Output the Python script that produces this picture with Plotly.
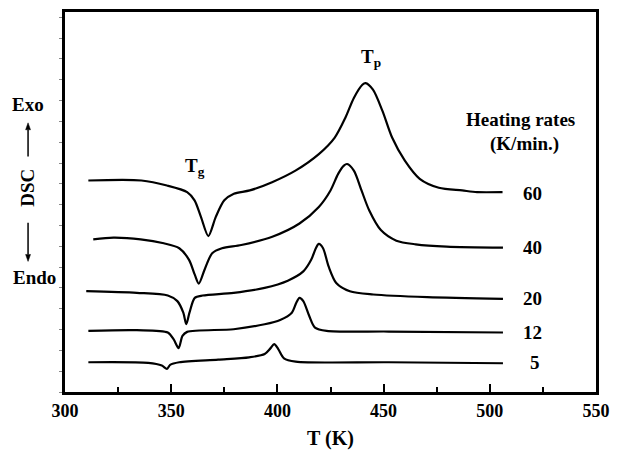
import plotly.graph_objects as go

# ---- data (T in K, DSC signal in arbitrary units) ----
T60 = [311, 336, 348, 357.5, 361, 364, 367.5, 371, 375, 379.5, 387, 397.5, 408.5, 419.5, 427, 432, 436, 440, 441.5, 445, 449.5, 454, 460, 467, 476, 487, 494, 506]
S60 = [64, 64, 62.5, 60.5, 58, 53, 47.2, 53, 58, 60, 61, 63.5, 67, 72, 77, 83, 89, 93, 93.5, 91.5, 85, 77, 70, 64.5, 61.8, 61, 60.5, 60.5]

T40 = [313.3, 322.8, 335.6, 346.5, 353.8, 358.4, 361.1, 363, 365.7, 369.3, 373.9, 383, 397.6, 410.4, 419.5, 425, 428.6, 431.3, 432.8, 436, 439.6, 443.2, 448.7, 456, 465.1, 479.7, 506.2]
S40 = [46.2, 46.7, 46.2, 45, 43.5, 40, 35.5, 32.8, 37, 42, 43.5, 44.5, 47, 51, 56, 61, 66, 68.5, 69, 67, 61, 55, 49, 45.8, 44.7, 44, 43.7]

T20 = [310, 333.8, 348.4, 352.9, 355.7, 357.1, 358.6, 361.1, 364.8, 379.4, 394, 404.9, 412.2, 415.9, 418.1, 419.5, 421.5, 424.1, 427.7, 434.1, 445.1, 470.6, 506.2]
S20 = [30.5, 30, 29.2, 27.5, 24, 20.5, 24, 28.5, 29.2, 30, 31.5, 33.7, 36.5, 40, 43.5, 44.8, 43.5, 38, 33, 30.5, 29.5, 28.7, 28.2]

T12 = [311, 333.8, 348.4, 351.1, 353.5, 355.3, 357.5, 379.4, 394, 401.3, 406.8, 408.9, 410.4, 412.2, 415, 417.7, 423.2, 452.4, 506.2]
S12 = [18.5, 18.7, 18, 16, 13.3, 17, 18.2, 19, 20.5, 21.8, 24, 27, 28.5, 27.5, 23, 19.5, 18.5, 18.3, 18]

T5 = [311, 339.2, 345.6, 348, 349.5, 353.8, 372.1, 386.7, 394, 396.7, 398.5, 400.4, 403.1, 408.6, 452.4, 506.2]
S5 = [9, 8.8, 8, 7, 8.2, 9, 9.8, 10.5, 11.5, 13.2, 14.5, 13, 10.2, 9.2, 9, 8.7]

rates = ["60", "40", "20", "12", "5"]
label_T = [520, 520, 520, 520, 521.5]
label_S = [60.2, 43.8, 28.3, 18, 9]

x_ticks = [300, 350, 400, 450, 500, 550]

W, H = 619, 456
L, R, TOP, B = 65, 15, 9, 63
FONT = "Liberation Serif"

def px_x(p):
    return (p - L) / (W - L - R)

def px_y(p):
    return 1 - (p - TOP) / (H - TOP - B)

fig = go.Figure()
for Tx, Sy in [(T60, S60), (T40, S40), (T20, S20), (T12, S12), (T5, S5)]:
    fig.add_trace(go.Scatter(x=Tx, y=Sy, mode="lines",
                             line=dict(color="black", width=2.2, shape="spline", smoothing=0.8),
                             showlegend=False, hoverinfo="skip"))

def bold(size):
    return dict(family=FONT, size=size, color="black", weight="bold")

ann = []
for r, tx, sy in zip(rates, label_T, label_S):
    ann.append(dict(x=tx, y=sy, xref="x", yref="y", text=r, showarrow=False,
                    xanchor="center", yanchor="middle", font=bold(19)))
ann.append(dict(x=514.5, y=82.5, xref="x", yref="y", text="Heating rates", showarrow=False,
                xanchor="center", yanchor="middle", font=bold(19)))
ann.append(dict(x=516.5, y=75, xref="x", yref="y", text="(K/min.)", showarrow=False,
                xanchor="center", yanchor="middle", font=bold(19)))
ann.append(dict(x=361, y=68, xref="x", yref="y", text="T<sub>g</sub>", showarrow=False,
                xanchor="center", yanchor="middle", font=bold(19)))
ann.append(dict(x=444, y=101, xref="x", yref="y", text="T<sub>p</sub>", showarrow=False,
                xanchor="center", yanchor="middle", font=bold(19)))

# y-axis side labels
ann.append(dict(x=px_x(27), y=px_y(102), xref="paper", yref="paper", text="Exo", showarrow=False,
                xanchor="center", yanchor="middle", font=bold(19)))
ann.append(dict(x=px_x(34), y=px_y(277), xref="paper", yref="paper", text="Endo", showarrow=False,
                xanchor="center", yanchor="middle", font=bold(19)))
ann.append(dict(x=px_x(27), y=px_y(187), xref="paper", yref="paper", text="DSC", showarrow=False,
                xanchor="center", yanchor="middle", textangle=-90, font=bold(19)))

# arrows (shaft + triangular head) drawn as shapes in paper coordinates
shapes = []
def arrow(xp, y_tail, y_tip, head=7, half=2.5):
    d = 1 if y_tip > y_tail else -1
    base = y_tip - d * head
    shapes.append(dict(type="line", xref="paper", yref="paper",
                       x0=px_x(xp), x1=px_x(xp), y0=px_y(y_tail), y1=px_y(base),
                       line=dict(color="black", width=1.5)))
    path = "M {:.5f},{:.5f} L {:.5f},{:.5f} L {:.5f},{:.5f} Z".format(
        px_x(xp), px_y(y_tip), px_x(xp - half), px_y(base), px_x(xp + half), px_y(base))
    shapes.append(dict(type="path", xref="paper", yref="paper", path=path,
                       fillcolor="black", line=dict(color="black", width=0.5)))

arrow(27.5, 155, 121)
arrow(27.5, 222, 261)

fig.update_layout(
    width=W, height=H,
    margin=dict(l=L, r=R, t=TOP, b=B),
    paper_bgcolor="white", plot_bgcolor="white",
    annotations=ann, shapes=shapes,
    xaxis=dict(range=[300, 550], tickvals=x_ticks, ticktext=[str(v) for v in x_ticks],
               ticks="inside", ticklen=8, tickwidth=2, tickcolor="black",
               minor=dict(ticks="inside", ticklen=5, tickwidth=2, tickcolor="black", dtick=25, tick0=300),
               showline=True, linewidth=3, linecolor="black", mirror=True,
               showgrid=False, zeroline=False,
               tickfont=bold(18),
               title=dict(text="T (K)", standoff=12, font=bold(20))),
    yaxis=dict(range=[0, 115], showticklabels=False, ticks="outside", ticklen=3, tickwidth=1,
               tickcolor="#888", tick0=0, dtick=6.3,
               showline=True, linewidth=3, linecolor="black", mirror=True,
               showgrid=False, zeroline=False),
)

fig.write_html("out.html", config={"displayModeBar": False},
               post_script="document.body.style.margin='0';document.body.style.padding='0';document.body.style.overflow='hidden';")
